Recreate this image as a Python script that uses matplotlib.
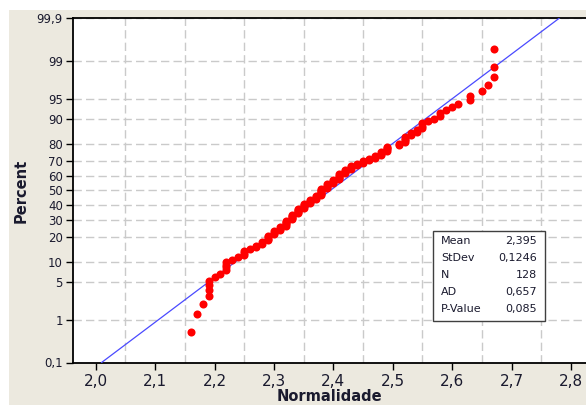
import numpy as np
import matplotlib
matplotlib.use('Agg')
import matplotlib.pyplot as plt
from matplotlib.patches import Rectangle
from statistics import NormalDist

# measured values (rounded to 0.01) and how many times each one occurs
values = [2.16, 2.17, 2.18, 2.19, 2.20, 2.21, 2.22, 2.23, 2.24, 2.25,
          2.26, 2.27, 2.28, 2.29, 2.30, 2.31, 2.32, 2.33, 2.34, 2.35,
          2.36, 2.37, 2.38, 2.39, 2.40, 2.41, 2.42, 2.43, 2.44, 2.45,
          2.46, 2.47, 2.48, 2.49, 2.51, 2.52, 2.53, 2.54, 2.55, 2.56,
          2.57, 2.58, 2.59, 2.60, 2.61, 2.63, 2.65, 2.66, 2.67]
counts = [1, 1, 1, 4, 1, 1, 4, 1, 1, 3,
          1, 2, 2, 4, 3, 3, 5, 5, 5, 4,
          4, 3, 7, 4, 4, 5, 4, 3, 2, 2,
          2, 2, 3, 4, 2, 4, 2, 2, 3, 1,
          1, 2, 1, 1, 1, 2, 1, 1, 3]

mean = 2.395
stdev = 0.1246
stat_names = ['Mean', 'StDev', 'N', 'AD', 'P-Value']
stat_values = ['2,395', '0,1246', '128', '0,657', '0,085']

pct_ticks = [0.1, 1, 5, 10, 20, 30, 40, 50, 60, 70, 80, 90, 95, 99, 99.9]
x_ticks = [2.0, 2.1, 2.2, 2.3, 2.4, 2.5, 2.6, 2.7, 2.8]

data = np.sort(np.repeat(values, counts))
n = len(data)
rank = np.arange(1, n + 1)
pct = (rank - 0.3) / (n + 0.4) * 100  # median ranks, like minitab

nd = NormalDist()
_ppf = np.vectorize(nd.inv_cdf, otypes=[float])
_cdf = np.vectorize(nd.cdf, otypes=[float])


def probit(p):
    p = np.clip(np.asarray(p, dtype=float) / 100.0, 1e-9, 1 - 1e-9)
    return _ppf(p)


def inv_probit(z):
    return _cdf(np.asarray(z, dtype=float)) * 100.0


txt = '#1a1a2e'
beige = '#ECE9DF'

fig = plt.figure(figsize=(5.86, 4.05), dpi=100, facecolor='white')
fig.patches.append(Rectangle((9 / 586, 0), 1, 1 - 10 / 405, transform=fig.transFigure,
                             facecolor=beige, edgecolor='none', zorder=-10))
ax = fig.add_axes([72.7 / 586, 1 - 362.5 / 405, 1 - 72.7 / 586, (362.5 - 18.3) / 405])
ax.set_facecolor('white')
ax.set_yscale('function', functions=(probit, inv_probit))

# fitted normal line
pline = np.array([0.1, 99.9])
xline = mean + stdev * probit(pline)
ax.plot(xline, pline, color='#4a4aff', lw=0.9, zorder=3)

ax.plot(data, pct, 'o', color='#ff0000', ms=5.8, mec='none', zorder=4)

ax.set_xlim(1.9613, 2.8253)
ax.set_ylim(0.1, 99.9)

ax.set_xticks(x_ticks)
ax.set_xticklabels([f'{v:.1f}'.replace('.', ',') for v in x_ticks], fontsize=11, color=txt)
ax.set_xticks(np.arange(2.0, 2.81, 0.05), minor=True)
ax.set_yticks(pct_ticks)
ax.set_yticklabels([f'{v:g}'.replace('.', ',') for v in pct_ticks], fontsize=8.5, color=txt)
ax.yaxis.set_minor_locator(matplotlib.ticker.NullLocator())
ax.tick_params(axis='x', which='major', length=5, width=1, pad=3)
ax.tick_params(axis='x', which='minor', length=0)
ax.tick_params(axis='y', length=5, width=1, pad=2)

ax.grid(True, axis='x', which='minor', color='#cacaca', ls=(0, (6, 3)), lw=1.0)
ax.grid(True, axis='y', which='major', color='#cacaca', ls=(0, (6, 3)), lw=1.0)
ax.set_axisbelow(True)

for side in ['left', 'bottom', 'top']:
    ax.spines[side].set_linewidth(1.3)
ax.spines['right'].set_visible(False)

ax.set_xlabel('Normalidade', fontsize=10.5, fontweight='bold', color=txt, labelpad=0)
ax.set_ylabel('Percent', fontsize=10.5, fontweight='bold', color=txt, labelpad=6)

# statistics box
bx0, by0, bw, bh = 433 / 586, 1 - 321 / 405, 112 / 586, 90 / 405
fig.patches.append(Rectangle((bx0, by0), bw, bh, transform=fig.transFigure,
                             facecolor='white', edgecolor='#404040', lw=1, zorder=5))
for k, (name, val) in enumerate(zip(stat_names, stat_values)):
    yy = 1 - (241 + 17 * k) / 405
    fig.text(441 / 586, yy, name, fontsize=8, color=txt, va='center', ha='left', zorder=6)
    fig.text(537 / 586, yy, val, fontsize=8, color=txt, va='center', ha='right', zorder=6)

fig.savefig('out.png', dpi=100, facecolor=fig.get_facecolor())
